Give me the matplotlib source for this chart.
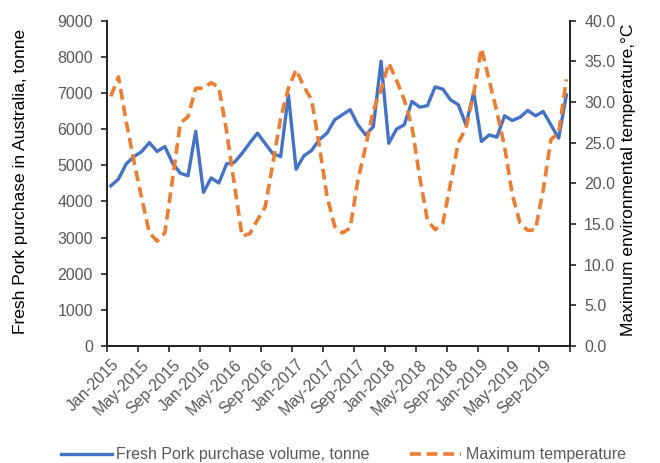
import numpy as np
import matplotlib.pyplot as plt
from matplotlib.ticker import FormatStrFormatter

plt.rcParams['font.family'] = ['Liberation Sans', 'DejaVu Sans']

# monthly series, Jan-2015 .. Dec-2019
months = ['Jan', 'Feb', 'Mar', 'Apr', 'May', 'Jun', 'Jul', 'Aug', 'Sep', 'Oct', 'Nov', 'Dec']
years = [2015, 2016, 2017, 2018, 2019]
month_labels = [f'{m}-{y}' for y in years for m in months]

pork_volume = [4430, 4620, 5040, 5240, 5380, 5630, 5380, 5520, 5060, 4780, 4710, 5940,
               4250, 4650, 4510, 5040, 5080, 5330, 5620, 5890, 5600, 5320, 5240, 6950,
               4890, 5260, 5410, 5710, 5890, 6260, 6400, 6540, 6120, 5840, 6070, 7880,
               5610, 6000, 6120, 6770, 6610, 6650, 7170, 7110, 6810, 6680, 6120, 7020,
               5660, 5840, 5780, 6370, 6240, 6330, 6520, 6370, 6490, 6120, 5750, 6950]

max_temp = [30.7, 33.1, 27.6, 22.7, 18.2, 13.9, 12.9, 13.9, 20.5, 27.4, 28.2, 31.7,
            31.7, 32.4, 31.8, 26.4, 19.9, 13.5, 13.8, 15.5, 17.1, 22.5, 28.0, 31.7,
            34.0, 31.9, 30.3, 24.7, 18.4, 14.7, 13.9, 14.5, 20.4, 24.5, 29.0, 31.5,
            34.8, 32.7, 30.3, 27.0, 20.8, 15.5, 14.3, 15.1, 20.0, 25.0, 26.8, 31.1,
            36.6, 32.7, 28.8, 24.5, 18.6, 15.1, 14.2, 14.3, 19.2, 25.4, 26.2, 32.8]

x = np.arange(len(month_labels))
grey = '#595959'
axis_col = '#262626'

fig = plt.figure(figsize=(6.6, 4.63), dpi=100)
ax = fig.add_axes([0.162, 0.253, 0.702, 0.702])
ax2 = ax.twinx()

l1, = ax.plot(x, pork_volume, color='#4472C4', lw=2.4, solid_joinstyle='round',
              label='Fresh Pork purchase volume, tonne')
l2, = ax2.plot(x, max_temp, color='#ED7D31', lw=2.6, linestyle=(0, (3, 1.6)),
               label='Maximum temperature')

ax.set_xlim(-0.5, len(x) - 0.5)
ax.set_ylim(0, 9000)
ax.set_yticks(np.arange(0, 9001, 1000))
ax2.set_ylim(0, 40)
ax2.set_yticks(np.arange(0, 40.1, 5))
ax2.yaxis.set_major_formatter(FormatStrFormatter('%.1f'))

# labels every 4 months, tick marks on the category boundaries
ax.set_xticks(x[::4])
ax.set_xticklabels(month_labels[::4], rotation=45, ha='right',
                   rotation_mode='anchor', fontsize=11.5, color=grey)
ax.set_xticks(np.arange(-0.5, len(x), 4), minor=True)
ax.tick_params(axis='x', which='major', length=0, pad=8)
ax.tick_params(axis='x', which='minor', length=4, width=1.2, color=axis_col)

ax.tick_params(axis='y', length=4, width=1.2, color=axis_col, labelsize=11.5,
               labelcolor=grey, pad=6)
ax2.tick_params(axis='y', length=4, width=1.2, color=axis_col, labelsize=11.5,
                labelcolor=grey, pad=6)

for a in (ax, ax2):
    a.spines['top'].set_visible(False)
    for s in ('left', 'right', 'bottom'):
        a.spines[s].set_color(axis_col)
        a.spines[s].set_linewidth(1.4)

ax.set_ylabel('Fresh Pork purchase in Australia, tonne', fontsize=12.5)
ax.yaxis.set_label_coords(-0.171, 0.505)
ax2.set_ylabel('Maximum environmental temperature,°C', fontsize=12.5)
ax2.yaxis.set_label_coords(1.110, 0.51)

fig.legend(handles=[l1, l2], loc='center', bbox_to_anchor=(0.52, 0.018),
           ncol=2, frameon=False, fontsize=11.5, handlelength=3.2,
           columnspacing=2.5, handletextpad=0.3, labelcolor=grey)

fig.savefig('out.png', dpi=100)
